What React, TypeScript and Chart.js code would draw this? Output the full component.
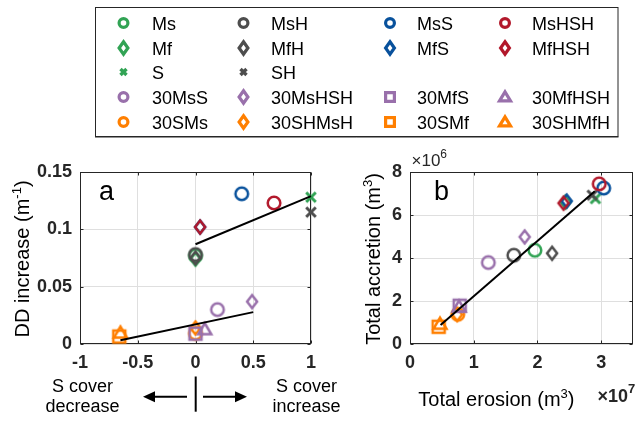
import React, { useEffect, useRef } from 'react';
import { Chart, registerables } from 'chart.js';

Chart.register(...registerables);

const FONT = '"Liberation Sans", Arial, Helvetica, sans-serif';
const AXIS = '#262626';
const GRID = '#dfdfdf';

const GREEN = '#31a354';
const DARK = '#4d4d4d';
const BLUE = '#08519c';
const RED = '#b2182b';
const PURPLE = '#9970ab';
const ORANGE = '#ff7f00';

// ---- series (order = drawing order) ----
const seriesNames = ['Ms', 'Mf', 'S', '30MsS', '30SMs', 'MsH', 'MfH', 'SH', '30MsHSH', '30SHMsH', 'MsS', 'MfS', '30MfS', '30SMf', 'MsHSH', 'MfHSH', '30MfHSH', '30SHMfH'];
const seriesShapes = ['circle', 'diamond', 'x', 'circle', 'circle', 'circle', 'diamond', 'x', 'diamond', 'diamond', 'circle', 'diamond', 'square', 'square', 'circle', 'diamond', 'triangle', 'triangle'];
const seriesColors = [GREEN, GREEN, GREEN, PURPLE, ORANGE, DARK, DARK, DARK, PURPLE, ORANGE, BLUE, BLUE, PURPLE, ORANGE, RED, RED, PURPLE, ORANGE];

// ---- panel a: S cover change vs DD increase ----
const sCoverChange = [0, 0, 1, 0.19, 0, 0, 0, 1, 0.49, 0, 0.4, 0.04, 0, -0.66, 0.68, 0.04, 0.08, -0.65];
const ddIncrease = [0.077, 0.074, 0.128, 0.030, 0.0093, 0.078, 0.075, 0.115, 0.037, 0.0140, 0.131, 0.102, 0.009, 0.0065, 0.123, 0.102, 0.0125, 0.0095];

// ---- panel b: total erosion (x1e7) vs total accretion (x1e6) ----
const totalErosionE7 = [1.96, 2.44, 2.91, 1.23, 0.75, 1.63, 2.23, 2.86, 1.80, 0.74, 3.04, 2.46, 0.78, 0.45, 2.97, 2.41, 0.77, 0.47];
const totalAccretionE6 = [4.36, 6.6, 6.76, 3.79, 1.38, 4.13, 4.22, 6.92, 4.98, 1.37, 7.25, 6.65, 1.78, 0.80, 7.45, 6.55, 1.72, 0.92];

// ---- fitted lines ----
const fitA1X = [0, 1];
const fitA1Y = [0.087, 0.129];
const fitA2X = [-0.65, 0.5];
const fitA2Y = [0.0033, 0.0278];
const fitBX = [0.48, 2.9];
const fitBY = [0.88, 7.1];

// ---- ticks ----
const ticksAX = [-1, -0.5, 0, 0.5, 1];
const ticksAY = [0, 0.05, 0.1, 0.15];
const ticksBX = [0, 1, 2, 3];
const ticksBY = [0, 2, 4, 6, 8];

// ---- legend layout ----
const legendRows = [
  ['Ms', 'MsH', 'MsS', 'MsHSH'],
  ['Mf', 'MfH', 'MfS', 'MfHSH'],
  ['S', 'SH', '', ''],
  ['30MsS', '30MsHSH', '30MfS', '30MfHSH'],
  ['30SMs', '30SHMsH', '30SMf', '30SHMfH'],
];

type Spec = { r: number; dw: number; dh: number; sq: number; tw: number; tt: number; tb: number; xs: number; lw: number; xlw: number };
const plotSpec: Spec = { r: 6.3, dw: 5.0, dh: 6.4, sq: 6, tw: 6.5, tt: 6.5, tb: 4.5, xs: 4.8, lw: 2.5, xlw: 3 };
const legendSpec: Spec = { r: 4.4, dw: 4.4, dh: 6.2, sq: 4.4, tw: 5.5, tt: 5.2, tb: 3.8, xs: 3.0, lw: 3.2, xlw: 3.4 };

function drawMarker(ctx: CanvasRenderingContext2D, shape: string, cx: number, cy: number, color: string, s: Spec) {
  ctx.save();
  ctx.strokeStyle = color;
  ctx.lineWidth = s.lw;
  ctx.lineJoin = 'miter';
  ctx.miterLimit = 10;
  ctx.beginPath();
  if (shape === 'circle') {
    ctx.arc(cx, cy, s.r, 0, Math.PI * 2);
  } else if (shape === 'diamond') {
    ctx.moveTo(cx, cy - s.dh);
    ctx.lineTo(cx + s.dw, cy);
    ctx.lineTo(cx, cy + s.dh);
    ctx.lineTo(cx - s.dw, cy);
    ctx.closePath();
  } else if (shape === 'square') {
    ctx.rect(cx - s.sq, cy - s.sq, s.sq * 2, s.sq * 2);
  } else if (shape === 'triangle') {
    ctx.moveTo(cx, cy - s.tt);
    ctx.lineTo(cx + s.tw, cy + s.tb);
    ctx.lineTo(cx - s.tw, cy + s.tb);
    ctx.closePath();
  } else if (shape === 'x') {
    ctx.lineWidth = s.xlw;
    ctx.moveTo(cx - s.xs, cy - s.xs);
    ctx.lineTo(cx + s.xs, cy + s.xs);
    ctx.moveTo(cx + s.xs, cy - s.xs);
    ctx.lineTo(cx - s.xs, cy + s.xs);
  }
  ctx.stroke();
  ctx.restore();
}

function markerImage(shape: string, color: string, s: Spec): HTMLCanvasElement {
  const c = document.createElement('canvas');
  c.width = 26;
  c.height = 26;
  const ctx = c.getContext('2d')!;
  drawMarker(ctx, shape, 13, 13, color, s);
  return c;
}

type Part = { t: string; size: number; bold?: boolean; dy?: number };
function partFont(p: Part) {
  return `${p.bold ? 'bold ' : ''}${p.size}px ${FONT}`;
}
function drawRich(ctx: CanvasRenderingContext2D, parts: Part[], x: number, y: number, align: 'left' | 'center') {
  ctx.save();
  ctx.textBaseline = 'alphabetic';
  ctx.textAlign = 'left';
  let w = 0;
  for (const p of parts) {
    ctx.font = partFont(p);
    w += ctx.measureText(p.t).width;
  }
  let cx = align === 'center' ? x - w / 2 : x;
  for (const p of parts) {
    ctx.font = partFont(p);
    ctx.fillText(p.t, cx, y + (p.dy || 0));
    cx += ctx.measureText(p.t).width;
  }
  ctx.restore();
}
function drawRichRotated(ctx: CanvasRenderingContext2D, parts: Part[], baseX: number, centerY: number) {
  ctx.save();
  ctx.translate(baseX, centerY);
  ctx.rotate(-Math.PI / 2);
  ctx.fillStyle = '#000';
  drawRich(ctx, parts, 0, 0, 'center');
  ctx.restore();
}

const boxPlugin = {
  id: 'matlabBox',
  beforeDatasetsDraw(chart: any) {
    const { ctx, chartArea: a, scales } = chart;
    const L = Math.round(a.left) + 0.5;
    const R = Math.round(a.right) - 0.5;
    const T = Math.round(a.top) + 0.5;
    const B = Math.round(a.bottom) - 0.5;
    ctx.save();
    ctx.strokeStyle = AXIS;
    ctx.lineWidth = 1;
    ctx.strokeRect(L, T, R - L, B - T);
    ctx.beginPath();
    const tl = 3;
    for (const t of scales.x.ticks) {
      const px = Math.round(scales.x.getPixelForValue(t.value)) + 0.5;
      ctx.moveTo(px, B);
      ctx.lineTo(px, B - tl);
      ctx.moveTo(px, T);
      ctx.lineTo(px, T + tl);
    }
    for (const t of scales.y.ticks) {
      const py = Math.round(scales.y.getPixelForValue(t.value)) + 0.5;
      ctx.moveTo(L, py);
      ctx.lineTo(L + tl, py);
      ctx.moveTo(R, py);
      ctx.lineTo(R - tl, py);
    }
    ctx.stroke();
    ctx.restore();
  },
};

function arrow(ctx: CanvasRenderingContext2D, x0: number, x1: number, y: number) {
  const dir = Math.sign(x1 - x0);
  const head = 12;
  ctx.beginPath();
  ctx.moveTo(x0, y);
  ctx.lineTo(x1 - dir * head * 0.8, y);
  ctx.stroke();
  ctx.beginPath();
  ctx.moveTo(x1, y);
  ctx.lineTo(x1 - dir * head, y - 5.5);
  ctx.lineTo(x1 - dir * head, y + 5.5);
  ctx.closePath();
  ctx.fill();
}

const annotA = {
  id: 'annotA',
  afterDraw(chart: any) {
    const { ctx } = chart;
    ctx.save();
    ctx.fillStyle = '#000';
    ctx.strokeStyle = '#000';
    drawRich(ctx, [{ t: 'a', size: 27 }], 99, 60, 'left');
    drawRichRotated(ctx, [
      { t: 'DD increase (m', size: 20 },
      { t: '-1', size: 13, dy: -8 },
      { t: ')', size: 20 },
    ], 28.5, 119);
    drawRich(ctx, [{ t: 'S cover', size: 18 }], 82.5, 251.7, 'center');
    drawRich(ctx, [{ t: 'decrease', size: 18 }], 82.5, 272.3, 'center');
    drawRich(ctx, [{ t: 'S cover', size: 18 }], 306.5, 251.7, 'center');
    drawRich(ctx, [{ t: 'increase', size: 18 }], 306.5, 272.3, 'center');
    ctx.lineWidth = 2;
    arrow(ctx, 187, 143, 256.7);
    arrow(ctx, 203, 247, 256.7);
    ctx.beginPath();
    ctx.moveTo(195.7, 236.5);
    ctx.lineTo(195.7, 271.7);
    ctx.stroke();
    ctx.restore();
  },
};

const annotB = {
  id: 'annotB',
  afterDraw(chart: any) {
    const { ctx } = chart;
    ctx.save();
    ctx.fillStyle = '#000';
    drawRich(ctx, [{ t: 'b', size: 27 }], 104, 60, 'left');
    ctx.fillStyle = AXIS;
    drawRich(ctx, [
      { t: '\u00d710', size: 17 },
      { t: '6', size: 12, dy: -8 },
    ], 81.5, 25.5, 'left');
    drawRich(ctx, [
      { t: '\u00d710', size: 18, bold: true },
      { t: '7', size: 13, bold: true, dy: -9 },
    ], 267.5, 261.7, 'left');
    ctx.fillStyle = '#000';
    drawRichRotated(ctx, [
      { t: 'Total accretion (m', size: 20 },
      { t: '3', size: 13, dy: -8 },
      { t: ')', size: 20 },
    ], 50, 119);
    drawRich(ctx, [
      { t: 'Total erosion (m', size: 20 },
      { t: '3', size: 13, dy: -8 },
      { t: ')', size: 20 },
    ], 88.3, 266, 'left');
    ctx.restore();
  },
};

function fmt(v: number) {
  return String(Number(v.toFixed(3)));
}

function makeConfig(xs: number[], ys: number[], fits: { x: number[]; y: number[] }[], xr: [number, number], yr: [number, number], tx: number[], ty: number[], rightPad: number, annot: any) {
  const pts = seriesNames.map((name, i) => ({
    type: 'scatter' as const,
    label: name,
    data: [{ x: xs[i], y: ys[i] }],
    pointStyle: markerImage(seriesShapes[i], seriesColors[i], plotSpec),
    pointRadius: 7,
    pointHoverRadius: 7,
    clip: false as any,
    order: 100 - i,
  }));
  const lines = fits.map((f, k) => ({
    type: 'line' as const,
    label: 'fit' + k,
    data: f.x.map((x, j) => ({ x, y: f.y[j] })),
    borderColor: '#000',
    borderWidth: 2,
    pointRadius: 0,
    fill: false,
    clip: false as any,
    order: 0,
  }));
  const tickFont = { family: FONT, size: 18, weight: 'bold' as const };
  return {
    type: 'scatter' as const,
    data: { datasets: [...pts, ...lines] as any[] },
    options: {
      animation: false as const,
      responsive: false,
      events: [] as any[],
      layout: { padding: { left: 0, top: 32, right: rightPad, bottom: 0 } },
      plugins: { legend: { display: false }, tooltip: { enabled: false } },
      scales: {
        x: {
          type: 'linear' as const,
          min: xr[0],
          max: xr[1],
          afterBuildTicks: (s: any) => { s.ticks = tx.map((v) => ({ value: v })); },
          afterFit: (s: any) => { s.height = 77; },
          ticks: { font: tickFont, color: AXIS, padding: 8, autoSkip: false, maxRotation: 0, callback: (v: any) => fmt(Number(v)) },
          grid: { color: GRID, drawTicks: false, lineWidth: 1 },
          border: { display: false },
        },
        y: {
          type: 'linear' as const,
          min: yr[0],
          max: yr[1],
          afterBuildTicks: (s: any) => { s.ticks = ty.map((v) => ({ value: v })); },
          afterFit: (s: any) => { s.width = 80; },
          ticks: { font: tickFont, color: AXIS, padding: 8, autoSkip: false, callback: (v: any) => fmt(Number(v)) },
          grid: { color: GRID, drawTicks: false, lineWidth: 1 },
          border: { display: false },
        },
      },
    },
    plugins: [boxPlugin, annot],
  };
}

export default function App() {
  const legendRef = useRef<HTMLCanvasElement>(null);
  const aRef = useRef<HTMLCanvasElement>(null);
  const bRef = useRef<HTMLCanvasElement>(null);

  useEffect(() => {
    // legend
    const lc = legendRef.current!;
    const lctx = lc.getContext('2d')!;
    lctx.clearRect(0, 0, lc.width, lc.height);
    lctx.fillStyle = '#fff';
    lctx.fillRect(95, 7, 523, 130);
    lctx.strokeStyle = AXIS;
    lctx.lineWidth = 1;
    lctx.strokeRect(95.5, 7.5, 522.5, 129);
    lctx.beginPath();
    lctx.moveTo(95, 137);
    lctx.lineTo(618.5, 137);
    lctx.stroke();
    const colMarker = [123.5, 243.5, 390, 505];
    const colText = [152, 271, 417, 532];
    const rowY = [23, 48, 72, 97, 122];
    legendRows.forEach((row, r) => {
      row.forEach((name, c) => {
        if (!name) return;
        const i = seriesNames.indexOf(name);
        drawMarker(lctx, seriesShapes[i], colMarker[c], rowY[r], seriesColors[i], legendSpec);
        lctx.fillStyle = '#000';
        lctx.font = `18px ${FONT}`;
        lctx.textBaseline = 'alphabetic';
        lctx.fillText(name, colText[c], rowY[r] + 6.5);
      });
    });

    const chartA = new Chart(aRef.current!, makeConfig(
      sCoverChange, ddIncrease,
      [{ x: fitA1X, y: fitA1Y }, { x: fitA2X, y: fitA2Y }],
      [-1, 1], [0, 0.15], ticksAX, ticksAY, 49, annotA) as any);
    const chartB = new Chart(bRef.current!, makeConfig(
      totalErosionE7, totalAccretionE6,
      [{ x: fitBX, y: fitBY }],
      [0, 3.5], [0, 8], ticksBX, ticksBY, 1, annotB) as any);
    return () => {
      chartA.destroy();
      chartB.destroy();
    };
  }, []);

  return (
    <div style={{ position: 'fixed', left: 0, top: 0, width: 641, height: 421, background: '#fff', overflow: 'hidden' }}>
      <canvas ref={legendRef} width={641} height={140} style={{ position: 'absolute', left: 0, top: 0, width: 641, height: 140 }} />
      <canvas ref={aRef} width={360} height={281} style={{ position: 'absolute', left: 0, top: 140, width: 360, height: 281 }} />
      <canvas ref={bRef} width={311} height={281} style={{ position: 'absolute', left: 330, top: 140, width: 311, height: 281 }} />
    </div>
  );
}
